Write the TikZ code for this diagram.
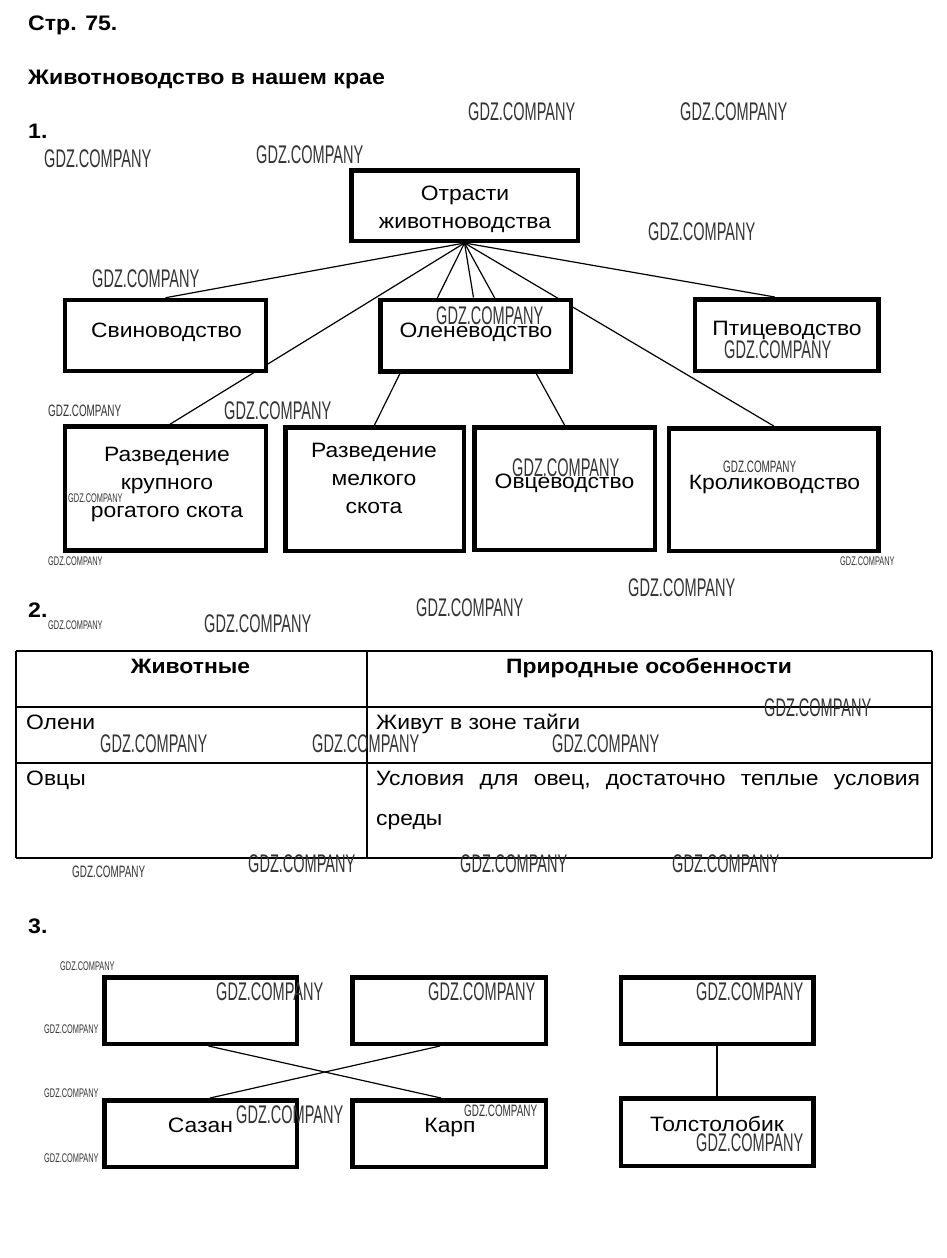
\documentclass[tikz,border=0pt]{standalone}
\usepackage{fontspec}
\setmainfont[FakeStretch=1.1]{Liberation Sans}
\newfontfamily\wmfont{Liberation Sans}
\usetikzlibrary{calc,backgrounds}
\newcommand\gdzmark[2]{\wmfont\fontsize{#1}{#1}\selectfont\scalebox{#2}[1]{GDZ.COMPANY}}
\tikzset{
  thickbox/.style={draw, line width=4.5pt, fill=white, inner sep=0pt},
  boxtext/.style={font=\fontsize{20.8}{28}\selectfont, align=center, anchor=base, inner sep=0pt},
  celltext/.style={font=\fontsize{20.8}{24}\selectfont, anchor=base west, inner sep=0pt},
  headtext/.style={font=\bfseries\fontsize{20.8}{24}\selectfont, anchor=base, inner sep=0pt},
  titletext/.style={font=\bfseries\fontsize{21}{24}\selectfont, anchor=base west, inner sep=0pt},
  conn/.style={line width=1.2pt},
  tline/.style={line width=1.1pt},
  wm/.style={anchor=base west, inner sep=0pt, text=black!80},
}
\begin{document}
\begin{tikzpicture}[x=1pt,y=-1pt]
\useasboundingbox (0,0) rectangle (946,1258);
\begin{pgfonlayer}{background}
\fill[white] (0,0) rectangle (946,1258);
\end{pgfonlayer}

% titles
\node[titletext] (t0) at (28,30) {Стр. 75.};
\node[titletext] (t1) at (28,84) {Животноводство в нашем крае};
\node[titletext] (t2) at (28,138) {1.};
\node[titletext] (t3) at (28,617) {2.};
\node[titletext] (t4) at (28,933) {3.};

% section 1 boxes
\node[thickbox, minimum width=226.5pt, minimum height=70.5pt] (root) at (464.5,205.5) {};
\node[thickbox, minimum width=201pt, minimum height=71pt] (svin) at (165.5,335.5) {};
\node[thickbox, minimum width=190.5pt, minimum height=71.5pt] (olen) at (475.5,335.5) {};
\node[thickbox, minimum width=183.5pt, minimum height=71.5pt] (ptic) at (786.7,335) {};
\node[thickbox, minimum width=201pt, minimum height=124pt] (krs) at (165.5,488.5) {};
\node[thickbox, minimum width=178.5pt, minimum height=123.5pt] (mrs) at (374.5,489) {};
\node[thickbox, minimum width=180.5pt, minimum height=122.5pt] (ovc) at (564.5,488.5) {};
\node[thickbox, minimum width=209.5pt, minimum height=122.5pt] (krol) at (773.7,489.5) {};

\begin{pgfonlayer}{background}
\draw[conn] (root.south) -- (svin.north);
\draw[conn] (root.south) -- ($(krs.north)+(4.5,0)$);
\draw[conn] (root.south) -- (mrs.north);
\draw[conn] (root.south) -- ($(olen.north)+(-2,0)$);
\draw[conn] (root.south) -- (ovc.north);
\draw[conn] (root.south) -- (krol.north);
\draw[conn] (root.south) -- ($(ptic.north)+(-12,0)$);
\end{pgfonlayer}

\node[boxtext] (troot) at (465,228) {Отрасти\\животноводства};
\node[boxtext] (tsvin) at (166.5,337) {Свиноводство};
\node[boxtext] (tolen) at (476,337) {Оленеводство};
\node[boxtext] (tptic) at (787,335) {Птицеводство};
\node[boxtext] (tkrs) at (167,517) {Разведение\\крупного\\рогатого скота};
\node[boxtext] (tmrs) at (374,513) {Разведение\\мелкого\\скота};
\node[boxtext] (tovc) at (564.5,488) {Овцеводство};
\node[boxtext] (tkrol) at (774.5,489) {Кролиководство};

% section 2 table
\draw[tline] (16,651) -- (932,651);
\draw[tline] (16,707) -- (932,707);
\draw[tline] (16,763) -- (932,763);
\draw[tline] (16,858) -- (932,858);
\draw[tline] (16,651) -- (16,858);
\draw[tline] (367,651) -- (367,858);
\draw[tline] (932,651) -- (932,858);
\node[headtext] (h1) at (190.5,673) {Животные};
\node[headtext] (h2) at (649,673) {Природные особенности};
\node[celltext] (c1) at (26,729) {Олени};
\node[celltext] (c2) at (376,729) {Живут в зоне тайги};
\node[celltext] (c3) at (26,785) {Овцы};
\node[celltext] (c4) at (376,785) {\hbox to 544pt{Условия\hfill для\hfill овец,\hfill достаточно\hfill теплые\hfill условия}};
\node[celltext] (c5) at (376,825) {среды};

% section 3
\node[thickbox, minimum width=192.5pt, minimum height=66.5pt] (fa) at (200.5,1010.5) {};
\node[thickbox, minimum width=193.5pt, minimum height=66.5pt] (fb) at (449,1010.5) {};
\node[thickbox, minimum width=192.5pt, minimum height=66.5pt] (fc) at (717,1010.5) {};
\node[thickbox, minimum width=192.5pt, minimum height=66.5pt] (sazan) at (200.5,1133.5) {};
\node[thickbox, minimum width=193.5pt, minimum height=66.5pt] (karp) at (449,1133.5) {};
\node[thickbox, minimum width=192.5pt, minimum height=67.5pt] (tolst) at (717,1132) {};
\begin{pgfonlayer}{background}
\draw[conn] ($(fa.south)+(8,0)$) -- ($(karp.north)+(-8,0)$);
\draw[conn] ($(fb.south)+(-9,0)$) -- ($(sazan.north)+(9.5,0)$);
\draw[conn] (fc.south) -- (tolst.north);
\end{pgfonlayer}
\node[boxtext] (tsaz) at (200.5,1132) {Сазан};
\node[boxtext] (tkarp) at (450,1132) {Карп};
\node[boxtext] (ttol) at (717,1131) {Толстолобик};

% watermarks
\node[wm] (w1) at (468,120) {\gdzmark{25.5}{0.57}};
\node[wm] (w2) at (680,120) {\gdzmark{25.5}{0.57}};
\node[wm] (w3) at (44,167) {\gdzmark{25.5}{0.57}};
\node[wm] (w4) at (256,163) {\gdzmark{25.5}{0.57}};
\node[wm] (w5) at (648,240) {\gdzmark{25.5}{0.57}};
\node[wm] (w6) at (92,287) {\gdzmark{25.5}{0.57}};
\node[wm] (w7) at (436,324) {\gdzmark{25.5}{0.57}};
\node[wm] (w8) at (724,358) {\gdzmark{25.5}{0.57}};
\node[wm] (w9) at (48,416) {\gdzmark{16.5}{0.6}};
\node[wm] (w10) at (224,419) {\gdzmark{25.5}{0.57}};
\node[wm] (w11) at (512,476) {\gdzmark{25.5}{0.57}};
\node[wm] (w12) at (723,472) {\gdzmark{16.5}{0.6}};
\node[wm] (w13) at (68,502) {\gdzmark{12.5}{0.59}};
\node[wm] (w14) at (48,565) {\gdzmark{12.5}{0.59}};
\node[wm] (w15) at (840,565) {\gdzmark{12.5}{0.59}};
\node[wm] (w16) at (628,596) {\gdzmark{25.5}{0.57}};
\node[wm] (w17) at (48,629) {\gdzmark{12.5}{0.59}};
\node[wm] (w18) at (204,632) {\gdzmark{25.5}{0.57}};
\node[wm] (w19) at (416,616) {\gdzmark{25.5}{0.57}};
\node[wm] (w20) at (764,716) {\gdzmark{25.5}{0.57}};
\node[wm] (w21) at (100,752) {\gdzmark{25.5}{0.57}};
\node[wm] (w22) at (312,752) {\gdzmark{25.5}{0.57}};
\node[wm] (w23) at (552,752) {\gdzmark{25.5}{0.57}};
\node[wm] (w24) at (72,877) {\gdzmark{16.5}{0.6}};
\node[wm] (w25) at (248,872) {\gdzmark{25.5}{0.57}};
\node[wm] (w26) at (460,872) {\gdzmark{25.5}{0.57}};
\node[wm] (w27) at (672,872) {\gdzmark{25.5}{0.57}};
\node[wm] (w28) at (60,970) {\gdzmark{12.5}{0.59}};
\node[wm] (w29) at (216,1000) {\gdzmark{25.5}{0.57}};
\node[wm] (w30) at (428,1000) {\gdzmark{25.5}{0.57}};
\node[wm] (w31) at (696,1000) {\gdzmark{25.5}{0.57}};
\node[wm] (w32) at (44,1033) {\gdzmark{12.5}{0.59}};
\node[wm] (w33) at (44,1097) {\gdzmark{12.5}{0.59}};
\node[wm] (w34) at (236,1123) {\gdzmark{25.5}{0.57}};
\node[wm] (w35) at (464,1116) {\gdzmark{16.5}{0.6}};
\node[wm] (w36) at (696,1151) {\gdzmark{25.5}{0.57}};
\node[wm] (w37) at (44,1162) {\gdzmark{12.5}{0.59}};
\end{tikzpicture}
\end{document}
